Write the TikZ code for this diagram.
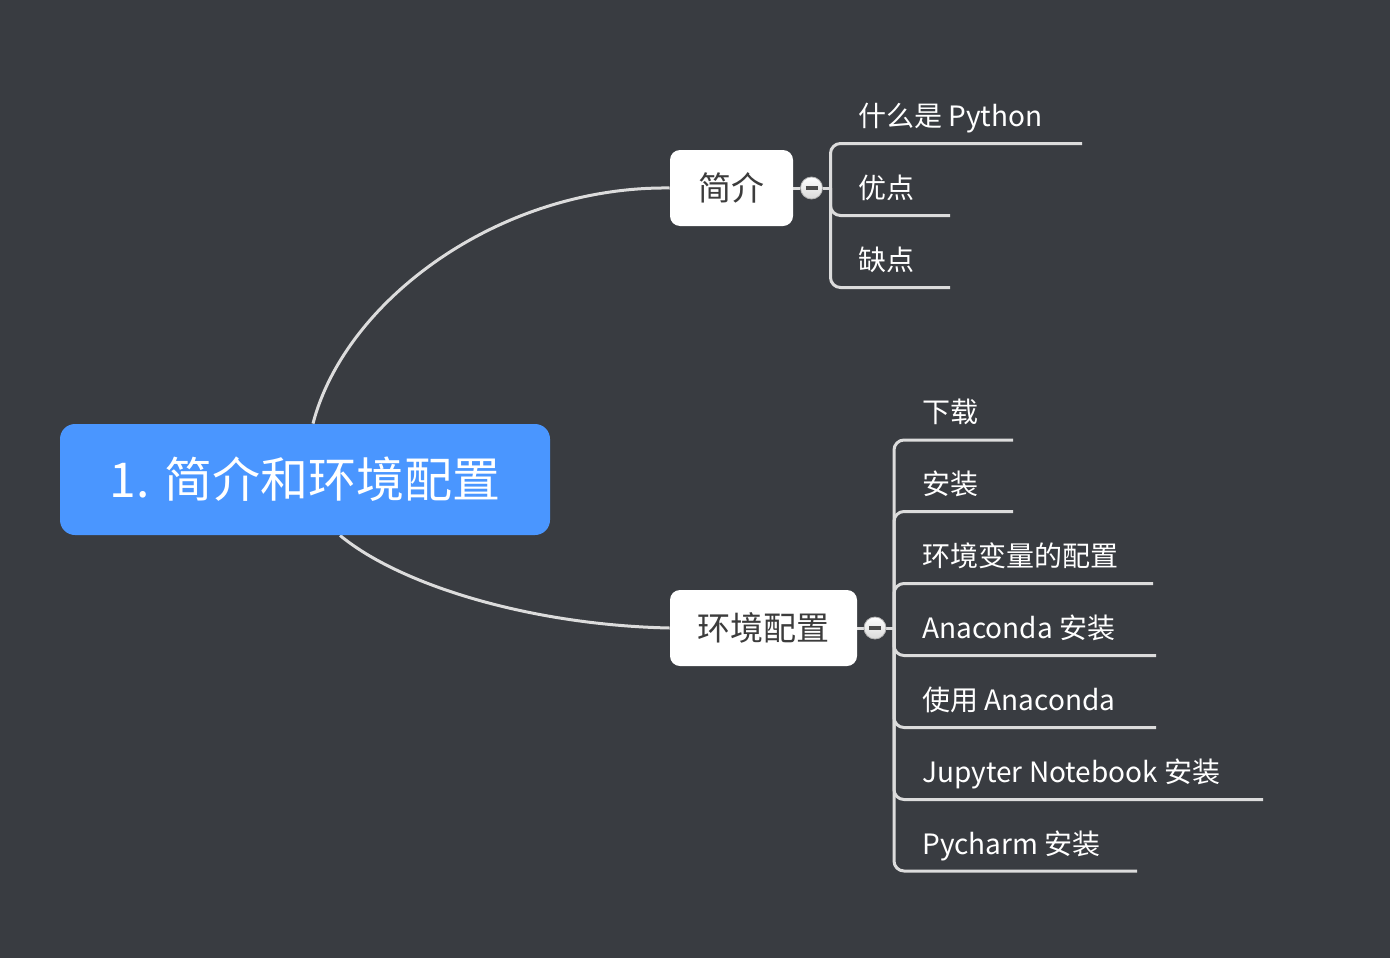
\documentclass[tikz,border=0pt]{standalone}
\usepackage{fontspec}
\setmainfont{Noto Sans CJK SC}
\usetikzlibrary{backgrounds,calc}
\definecolor{bgc}{HTML}{393C41}
\definecolor{blu}{HTML}{4A96FF}
\definecolor{lnc}{HTML}{DCDCDC}
\definecolor{txd}{HTML}{3C3C3C}
\begin{document}
\begin{tikzpicture}[x=0.5pt,y=-0.5pt,
  conn/.style={draw=lnc,line width=1.5pt},
  branch/.style={draw=lnc,line width=1.5pt,rounded corners=5pt},
  mainbox/.style={fill=blu,rounded corners=7.5pt,minimum width=245pt,minimum height=55.5pt,inner sep=0pt,text=white,font=\fontsize{24}{28}\selectfont},
  subbox/.style={fill=white,rounded corners=5pt,minimum height=38pt,inner sep=0pt,text=txd,font=\fontsize{16.5}{20}\selectfont},
  leaf/.style={anchor=base west,inner sep=0pt,text=white,font=\fontsize{14}{17}\selectfont},
  toggle/.style={circle,draw=gray!60,line width=0.4pt,top color=white,bottom color=gray!30,minimum size=11pt,inner sep=0pt,
    path picture={\draw[line width=1.6pt,gray!60!black] ([xshift=-3pt]path picture bounding box.center) -- ([xshift=3pt]path picture bounding box.center);}}]
\useasboundingbox (0,0) rectangle (1390,958);

\node[mainbox] (main) at (305,479.5) {1. 简介和环境配置};
\node[subbox,minimum width=61.5pt] (jj) at (731.5,188) {简介};
\node[subbox,minimum width=93.5pt] (hj) at (763.5,628) {环境配置};
\node[toggle] (t1) at (811.5,188) {};
\node[toggle] (t2) at (875,628) {};
\coordinate (j1) at (830.5,188);
\coordinate (j2) at (894,628);

% leaves of 简介
\node[leaf] (a1) at (858,126) {什么是 Python};
\node[leaf] (a2) at (858,198) {优点};
\node[leaf] (a3) at (858,270) {缺点};
\coordinate (e1) at (1082,143.5);
\coordinate (e2) at (950,215.5);
\coordinate (e3) at (950,287.5);

% leaves of 环境配置
\node[leaf] (b1) at (922,422.5) {下载};
\node[leaf] (b2) at (922,494.5) {安装};
\node[leaf] (b3) at (922,566) {环境变量的配置};
\node[leaf] (b4) at (922,638) {Anaconda 安装};
\node[leaf] (b5) at (922,710) {使用 Anaconda};
\node[leaf] (b6) at (922,782) {Jupyter Notebook 安装};
\node[leaf] (b7) at (922,854) {Pycharm 安装};
\coordinate (f1) at (1013,440);
\coordinate (f2) at (1013,511.5);
\coordinate (f3) at (1153,583.5);
\coordinate (f4) at (1156,655.5);
\coordinate (f5) at (1156,727.5);
\coordinate (f6) at (1263,799.5);
\coordinate (f7) at (1137,871);

\begin{pgfonlayer}{background}
  \fill[bgc] (0,0) rectangle (1390,958);
  \draw[conn] ($(main.north)+(8,0)$) .. controls (345,300) and (500,186) .. (jj.west);
  \draw[conn] ($(main.south)+(35,0)$) .. controls (400,585) and (530,625) .. (hj.west);
  \draw[conn] (jj.east) -- (t1) -- (j1);
  \draw[conn] (hj.east) -- (t2) -- (j2);
  \foreach \e in {e1,e2,e3} \draw[branch] (j1) |- (\e);
  \foreach \f in {f1,f2,f3,f4,f5,f6,f7} \draw[branch] (j2) |- (\f);
\end{pgfonlayer}
\end{tikzpicture}
\end{document}
